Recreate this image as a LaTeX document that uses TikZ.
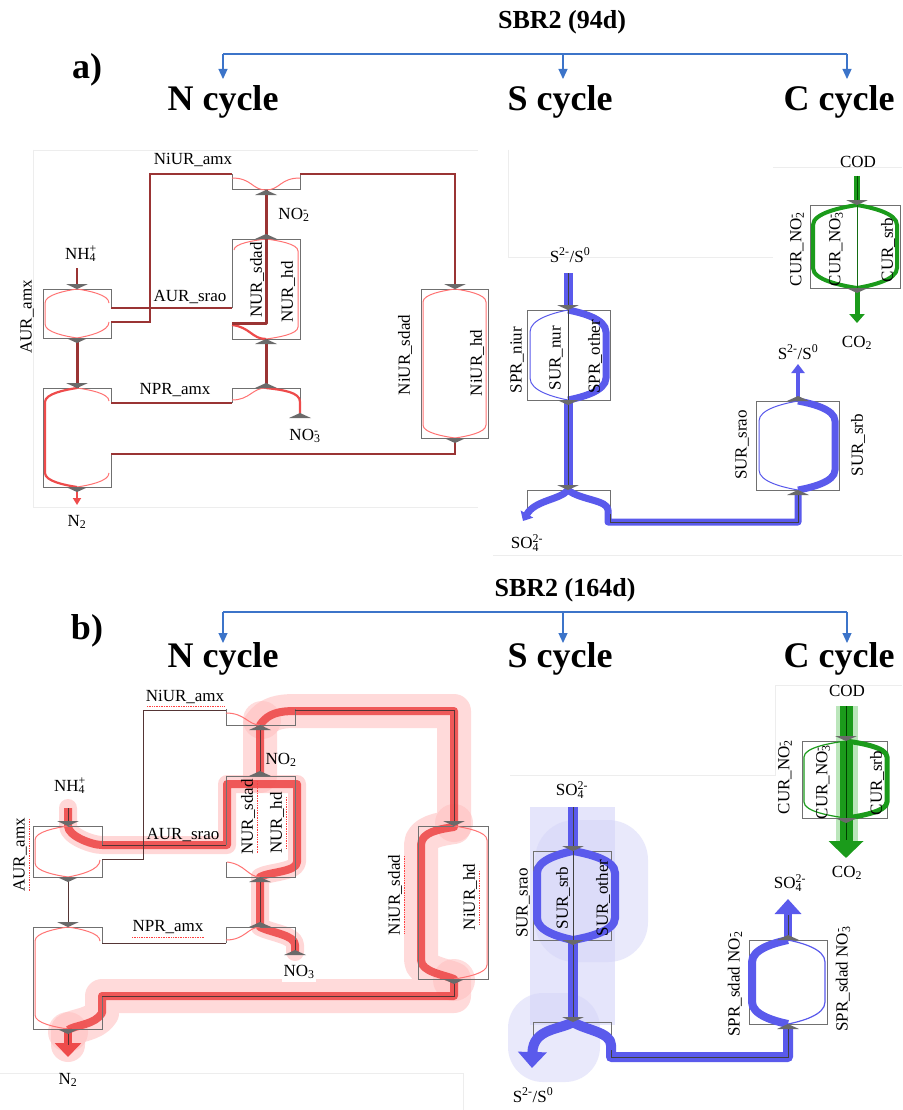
\documentclass[tikz,border=0pt]{standalone}
\usepackage{fontspec}
\setmainfont{Liberation Serif}
\usetikzlibrary{arrows.meta}
\definecolor{bxc}{HTML}{707070}
\definecolor{mkc}{HTML}{6A6A6A}
\definecolor{dred}{HTML}{9A3434}
\definecolor{dkc}{HTML}{553535}
\definecolor{lred}{HTML}{FF7373}
\definecolor{mred}{HTML}{EE4B4B}
\definecolor{glowc}{HTML}{FFBDBD}
\definecolor{fblue}{HTML}{5A5AEC}
\definecolor{gblue}{HTML}{D4D4F9}
\definecolor{fgreen}{HTML}{1B9B1B}
\definecolor{ggreen}{HTML}{8FD68F}
\definecolor{tblue}{HTML}{3C74C9}
\definecolor{framec}{HTML}{EDEDED}
\newcommand\lens[5]{(#1,#2) .. controls ({#1+0.35*(#4-#1)},{#2+0.12*(#5)}) and (#4,{#2+0.4*(#5)}) .. (#4,{#2+#5}) -- (#4,{#3-(#5)}) .. controls (#4,{#3-0.4*(#5)}) and ({#1+0.35*(#4-#1)},{#3-0.12*(#5)}) .. (#1,#3)}
\newcommand\htop[4]{(#1,#2) .. controls ({#1+0.35*(#3-#1)},{#2+0.12*(#4)}) and (#3,{#2+0.4*(#4)}) .. (#3,{#2+#4})}
\newcommand\hbot[4]{(#3,{#2-(#4)}) .. controls (#3,{#2-0.4*(#4)}) and ({#1+0.35*(#3-#1)},{#2-0.12*(#4)}) .. (#1,#2)}
\newcommand\mkd[2]{\fill[mkc] ({#1-11},#2) -- ({#1+11},#2) -- (#1,{#2+5}) -- cycle;}
\newcommand\mku[2]{\fill[mkc] ({#1-11},#2) -- ({#1+11},#2) -- (#1,{#2-5}) -- cycle;}
\newcommand\ssp[2]{\rlap{\textsubscript{#1}}\textsuperscript{#2}}
\tikzset{
 bx/.style={draw=bxc, line width=1pt},
 con/.style={draw=dred, line width=1.1pt},
 conB/.style={draw=dred, line width=2pt},
 dk/.style={draw=dkc, line width=1pt},
 thr/.style={draw=lred, line width=1pt},
 tkr/.style={draw=mred, line width=2.2pt},
 vred/.style={draw=dred, line width=3pt},
 rband/.style={draw=mred, line width=8pt, opacity=0.9, line join=round},
 rglow/.style={draw=glowc, line width=18pt, opacity=0.6, line cap=round, line join=round},
 rglowW/.style={draw=glowc, line width=34pt, opacity=0.55, line cap=round, line join=round},
 bband/.style={draw=fblue, line width=9pt},
 bthin/.style={draw=fblue, line width=1pt},
 bthk/.style={draw=fblue, line width=7pt},
 gthk/.style={draw=fgreen, line width=4pt},
 cl/.style={draw=black!75, line width=0.8pt},
 sq/.style={draw=red!75, densely dotted, line width=0.7pt},
 lab/.style={font=\fontsize{17}{19}\selectfont, inner sep=0pt},
 rlab/.style={lab, rotate=90},
 ttl/.style={font=\bfseries\fontsize{36}{40}\selectfont, inner sep=0pt, anchor=base},
 hd/.style={font=\bfseries\fontsize{26}{30}\selectfont, inner sep=0pt},
 tarr/.style={draw=tblue, line width=1.2pt},
 tah/.style={draw=tblue, line width=1.2pt, -{Triangle[width=9pt,length=10pt]}},
 fr/.style={draw=framec, line width=0.8pt}
}
\begin{document}
\begin{tikzpicture}[x=1pt,y=-1pt]
\fill[white] (0,0) rectangle (902,1110);
\useasboundingbox (0,0) rectangle (902,1110);

% ================= headers =================
\node[hd] (hA) at (562,22) {SBR2 (94d)};
\node[hd, font=\bfseries\fontsize{36}{40}\selectfont] (la) at (87,70) {a)};
\draw[tarr] (223,54) -- (847,54);
\draw[tah] (223,54) -- (223,79);
\draw[tah] (563,54) -- (563,79);
\draw[tah] (847,54) -- (847,79);
\node[ttl] (tNa) at (223,111) {N cycle};
\node[ttl] (tSa) at (560,111) {S cycle};
\node[ttl] (tCa) at (839,111) {C cycle};

\node[hd] (hB) at (565,590) {SBR2 (164d)};
\node[hd, font=\bfseries\fontsize{36}{40}\selectfont] (lb) at (87,631) {b)};
\draw[tarr] (223,612) -- (847,612);
\draw[tah] (223,612) -- (223,643);
\draw[tah] (563,612) -- (563,643);
\draw[tah] (847,612) -- (847,643);
\node[ttl] (tNb) at (223,667) {N cycle};
\node[ttl] (tSb) at (560,667) {S cycle};
\node[ttl] (tCb) at (839,667) {C cycle};

% faint frames
\draw[fr] (33,150) -- (478,150);
\draw[fr] (33,150) -- (33,507) -- (478,507);
\draw[fr] (508,150) -- (508,257) -- (773,257);
\draw[fr] (773,167) -- (902,167);
\draw[fr] (493,555) -- (902,555);
\draw[fr] (0,1073) -- (463,1073) -- (463,1110);
\draw[fr] (510,775) -- (775,775) -- (775,685) -- (902,685);

% ================= panel a : N cycle =================
\draw[bx] (111,308) -- (111,289) -- (43,289) -- (43,338) -- (111,338) -- (111,322);
\draw[bx] (232,174) -- (232,190) -- (300,190) -- (300,174);
\draw[bx] (232,308) -- (232,239) -- (300,239) -- (300,339) -- (232,339) -- (232,323);
\draw[bx] (111,403) -- (111,388) -- (43,388) -- (43,487) -- (111,487) -- (111,454);
\draw[bx] (232,403) -- (232,388) -- (300,388) -- (300,402);
\draw[bx] (421,289) rectangle (488,438);
\draw[conB] (111,322) -- (150,322) -- (150,174) -- (232,174);
\draw[con] (111,308) -- (232,308);
\draw[con] (300,174) -- (455,174) -- (455,285);
\draw[con] (111,403) -- (232,403);
\draw[con] (111,454) -- (455,454) -- (455,438);
\draw[con] (77,268) -- (77,285);
\draw[thr] \lens{77}{289}{338}{45}{14};
\draw[thr] \htop{77}{289}{109}{14};
\draw[thr] \hbot{77}{338}{109}{16};
\draw[thr] (232,178) .. controls (252,178) and (252,190) .. (266,190);
\draw[thr] (300,178) .. controls (280,178) and (280,190) .. (266,190);
\draw[thr] \htop{266}{239}{234}{11};
\draw[thr] \lens{266}{239}{339}{298}{12};
\draw[thr] (232,400) .. controls (250,400) and (252,388) .. (266,388);
\draw[thr] \htop{77}{388}{109}{13};
\draw[thr] \hbot{77}{487}{109}{14};
\draw[thr] \lens{455}{289}{438}{423}{13};
\draw[thr] \lens{455}{289}{438}{486}{13};
\draw[tkr] \lens{77}{388}{487}{45}{14};
\draw[tkr] (266,388) .. controls (283,390) and (300,392) .. (300,402) -- (300,415);
\draw[tkr] (232,325) .. controls (250,327) and (252,339) .. (266,339);
\draw[vred] (77,338) -- (77,388);
\draw[vred] (266,190) -- (266,239);
\draw[vred] (266,339) -- (266,388);
\draw[vred, line join=round] (266,239) -- (266,323) -- (232,323);
\draw[draw=mred, line width=2.5pt, -{Triangle[width=8pt,length=7pt]}] (77,487) -- (77,505);
\mkd{77}{284} \mkd{77}{338} \mkd{77}{383} \mkd{77}{487}
\mku{266}{195} \mku{266}{239} \mku{266}{344} \mku{266}{388} \mku{300}{418}
\mkd{455}{284} \mkd{455}{438}
\node[lab] (a1) at (193,160) {NiUR\_amx};
\node[rlab] (a2) at (27,317) {AUR\_amx};
\node[lab] (a3) at (81,254) {NH\ssp{4}{+}};
\node[lab] (a4) at (190,297) {AUR\_srao};
\node[lab] (a5) at (293,215) {NO\ssp{2}{-}};
\node[rlab] (a6) at (257,280) {NUR\_sdad};
\node[rlab] (a7) at (288,292) {NUR\_hd};
\node[lab] (a8) at (175,390) {NPR\_amx};
\node[lab] (a9) at (304,436) {NO\ssp{3}{-}};
\node[lab] (a10) at (77,522) {N\textsubscript{2}};
\node[rlab] (a11) at (405,355) {NiUR\_sdad};
\node[rlab] (a12) at (477,363) {NiUR\_hd};

% ================= panel a : S cycle =================
\draw[bband] (568,273) -- (568,306);
\draw[cl] (568,273) -- (568,306);
\draw[bx] (527,310) rectangle (610,400);
\draw[bthin] \lens{568}{310}{400}{530}{22};
\draw[bthk] \lens{568}{310}{400}{606}{22};
\draw[cl] (568,310) -- (568,400);
\draw[bband] (568,400) -- (568,486);
\draw[cl] (568,400) -- (568,486);
\draw[bx] (527,512) -- (527,490) -- (610,490) -- (610,517);
\draw[bthk, -{Triangle[width=14pt,length=8pt]}] (568,490) .. controls (560,500) and (535,500) .. (523,521);
\draw[bthk, line join=round] (568,490) .. controls (580,500) and (608,500) .. (608,510) -- (608,522) -- (798,522) -- (798,494);
\draw[cl] (610,514) -- (610,522) -- (798,522) -- (798,495);
\draw[bx] (756,401) rectangle (839,490);
\draw[bthin] \lens{798}{401}{490}{759}{20};
\draw[bthk] \lens{798}{401}{490}{835}{20};
\draw[fblue, line width=4pt, -{Triangle[width=13pt,length=9pt]}] (798,401) -- (798,364);
\mkd{568}{305} \mkd{568}{400} \mkd{568}{485} \mku{798}{495} \mku{798}{401}
\node[lab] (s1) at (570,255) {S\textsuperscript{2-}/S\textsuperscript{0}};
\node[rlab] (s2) at (517,360) {SPR\_niur};
\node[rlab] (s3) at (556,358) {SUR\_nur};
\node[rlab] (s4) at (595,357) {SPR\_other};
\node[lab] (s5) at (527,543) {SO\ssp{4}{2-}};
\node[lab] (s6) at (798,352) {S\textsuperscript{2-}/S\textsuperscript{0}};
\node[rlab] (s7) at (742,445) {SUR\_srao};
\node[rlab] (s8) at (858,445) {SUR\_srb};

% ================= panel a : C cycle =================
\draw[fgreen, line width=6pt] (857,176) -- (857,201);
\draw[draw=green!30!black, line width=0.8pt] (857,176) -- (857,201);
\draw[bx] (810,205) rectangle (900,288);
\draw[gthk] \lens{857}{205}{288}{813}{20};
\draw[gthk] \lens{857}{205}{288}{897}{20};
\draw[draw=fgreen!70!black, line width=1pt] (857,205) -- (857,288);
\draw[fgreen, line width=5pt, -{Triangle[width=15pt,length=9pt]}] (857,288) -- (857,323);
\mkd{857}{200} \mkd{857}{288}
\node[lab] (c1) at (858,162) {COD};
\node[lab] (c2) at (857,343) {CO\textsubscript{2}};
\node[rlab] (c3) at (797,250) {CUR\_NO\ssp{2}{-}};
\node[rlab] (c4) at (836,250) {CUR\_NO\ssp{3}{-}};
\node[rlab] (c5) at (888,250) {CUR\_srb};

% ================= panel b : N cycle =================
\draw[rglowW] (260,776) -- (260,725) .. controls (268,713) and (280,711) .. (295,711) -- (454,711) -- (454,827) .. controls (440,829) and (421,832) .. (421,845) -- (421,960) .. controls (421,972) and (445,975) .. (454,979) -- (454,996) -- (102,996) -- (102,1013) .. controls (95,1025) and (75,1025) .. (68,1030) -- (68,1045);
\fill[glowc, opacity=0.5] (262,720) circle (19);
\fill[glowc, opacity=0.5] (454,823) circle (19);
\fill[glowc, opacity=0.5] (454,980) circle (21);
\fill[glowc, opacity=0.5] (68,1032) circle (20);
\draw[rglow] (68,808) -- (68,826) .. controls (68,836) and (92,845) .. (102,845) -- (227,845) -- (227,784) -- (297,784) -- (297,862) .. controls (297,872) and (268,872) .. (260,877) -- (260,927) .. controls (272,933) and (295,935) .. (295,945) -- (295,952);
\draw[rband] (68,808) -- (68,826) .. controls (68,836) and (92,845) .. (102,845) -- (227,845) -- (227,784) -- (297,784) -- (297,862) .. controls (297,872) and (268,872) .. (260,877) -- (260,927) .. controls (272,933) and (295,935) .. (295,945) -- (295,952);
\draw[rband] (260,776) -- (260,725) .. controls (268,713) and (280,711) .. (295,711) -- (454,711) -- (454,827) .. controls (440,829) and (421,832) .. (421,845) -- (421,960) .. controls (421,972) and (445,975) .. (454,979) -- (454,996) -- (102,996) -- (102,1013) .. controls (95,1025) and (75,1025) .. (68,1030);
\draw[mred, line width=8pt, -{Triangle[width=26pt,length=14pt]}] (68,1028) -- (68,1057);
\draw[bx] (102,845) -- (102,826) -- (33,826) -- (33,877) -- (102,877) -- (102,859);
\draw[bx] (226,709) -- (226,725) -- (295,725) -- (295,709);
\draw[bx] (226,845) -- (226,776) -- (295,776) -- (295,877) -- (226,877) -- (226,862);
\draw[bx] (418,826) rectangle (488,979);
\draw[bx] (102,943) -- (102,927) -- (33,927) -- (33,1029) -- (102,1029) -- (102,996);
\draw[bx] (226,943) -- (226,927) -- (295,927) -- (295,940);
\draw[dk] (102,859) -- (143,859) -- (143,710) -- (226,710);
\draw[dk] (295,710) -- (454,710) -- (454,822);
\draw[dk] (102,845) -- (226,845);
\draw[dk] (102,943) -- (226,943);
\draw[dk] (102,996) -- (454,996) -- (454,979);
\draw[dk] (68,877) -- (68,922);
\draw[dk] (260,725) -- (260,776);
\draw[dk] (260,877) -- (260,927);
\draw[dk] (68,808) -- (68,822);
\draw[dk] (295,940) -- (295,955);
\draw[dk] (68,1029) -- (68,1045);
\draw[thr] \lens{68}{826}{877}{35}{14};
\draw[thr] \hbot{68}{877}{100}{17};
\draw[thr] (226,713) .. controls (245,713) and (248,725) .. (260,725);
\draw[thr] (227,862) .. controls (245,864) and (248,877) .. (260,877);
\draw[thr] (226,940) .. controls (245,940) and (248,927) .. (260,927);
\draw[thr] \lens{68}{927}{1029}{35}{14};
\draw[thr] \htop{68}{927}{100}{14};
\draw[thr] \lens{454}{826}{979}{487}{14};
\mkd{68}{821} \mkd{68}{877} \mkd{68}{922} \mkd{68}{1029}
\mku{260}{730} \mku{260}{776} \mku{260}{882} \mku{260}{927} \mku{295}{955}
\mkd{454}{821} \mkd{454}{979}
\fill[white] (282,961) rectangle (316,982);
\node[lab] (b1) at (185,697) {NiUR\_amx};
\node[rlab] (b2) at (20,855) {AUR\_amx};
\node[lab] (b3) at (70,786) {NH\ssp{4}{+}};
\node[lab] (b4) at (183,835) {AUR\_srao};
\node[lab] (b5) at (281,760) {NO\textsubscript{2}};
\node[rlab] (b6) at (248,817) {NUR\_sdad};
\node[rlab] (b7) at (277,823) {NUR\_hd};
\node[lab] (b8) at (168,927) {NPR\_amx};
\node[lab] (b9) at (299,972) {NO\textsubscript{3}};
\node[lab] (b10) at (68,1080) {N\textsubscript{2}};
\node[rlab] (b11) at (395,895) {NiUR\_sdad};
\node[rlab] (b12) at (470,897) {NiUR\_hd};
\draw[sq] (147,706) -- (224,706);
\draw[sq] (132,937) -- (205,937);
\draw[sq] (29,819) -- (29,892);
\draw[sq] (257,781) -- (257,854);
\draw[sq] (286,797) -- (286,849);
\draw[sq] (404,856) -- (404,934);
\draw[sq] (479,871) -- (479,924);

% ================= panel b : S cycle =================
\fill[gblue, opacity=0.6] (530,807) rectangle (615,1025);
\fill[gblue, opacity=0.5, rounded corners=40pt] (535,820) rectangle (648,962);
\fill[gblue, opacity=0.5, rounded corners=35pt] (508,993) rectangle (600,1082);
\draw[fblue, line width=10pt] (573,807) -- (573,846);
\draw[cl] (573,807) -- (573,846);
\draw[bx] (533,851) rectangle (611,940);
\draw[fblue, line width=8pt] \lens{573}{851}{940}{537}{22};
\draw[fblue, line width=8pt] \lens{573}{851}{940}{615}{22};
\draw[cl] (573,851) -- (573,940);
\draw[fblue, line width=10pt] (573,940) -- (573,1017);
\draw[cl] (573,940) -- (573,1017);
\draw[bx] (533,1050) -- (533,1022) -- (611,1022) -- (611,1050);
\draw[fblue, line width=10pt, -{Triangle[width=28pt,length=16pt]}] (573,1022) .. controls (560,1030) and (533,1028) .. (532,1068);
\draw[fblue, line width=10pt, line join=round] (573,1022) .. controls (585,1030) and (611,1032) .. (611,1045) -- (611,1057) -- (788,1057) -- (788,1028);
\draw[cl] (611,1050) -- (611,1057) -- (788,1057) -- (788,1029);
\draw[bx] (749,940) rectangle (827,1024);
\draw[fblue, line width=8pt] \lens{788}{940}{1024}{752}{22};
\draw[bthin, line width=1.2pt] \lens{788}{940}{1024}{825}{22};
\draw[fblue, line width=8pt, -{Triangle[width=26pt,length=15pt]}] (788,940) -- (788,899);
\draw[cl] (788,940) -- (788,915);
\mkd{573}{846} \mkd{573}{940} \mkd{573}{1017} \mku{788}{1029} \mku{788}{940}
\node[lab] (t1) at (572,790) {SO\ssp{4}{2-}};
\node[rlab] (t2) at (523,903) {SUR\_srao};
\node[rlab] (t3) at (563,898) {SUR\_srb};
\node[rlab] (t4) at (603,898) {SUR\_other};
\node[lab] (t5) at (533,1095) {S\textsuperscript{2-}/S\textsuperscript{0}};
\node[lab] (t6) at (790,883) {SO\ssp{4}{2-}};
\node[rlab] (t7) at (735,985) {SPR\_sdad NO\ssp{2}{-}};
\node[rlab] (t8) at (843,980) {SPR\_sdad NO\ssp{3}{-}};

% ================= panel b : C cycle =================
\fill[ggreen, opacity=0.6] (836,706) rectangle (858,842);
\draw[fgreen, line width=13pt] (846,706) -- (846,736);
\draw[bx] (802,741) rectangle (887,818);
\draw[draw=fgreen, line width=1.2pt] \lens{846}{741}{818}{804}{16};
\draw[draw=fgreen, line width=5pt] \lens{846}{741}{818}{887}{16};
\draw[fgreen, line width=13pt] (846,741) -- (846,818);
\draw[fgreen, line width=13pt, -{Triangle[width=34pt,length=17pt]}] (846,818) -- (846,858);
\draw[draw=green!25!black, line width=0.8pt] (846,706) -- (846,840);
\mkd{846}{736} \mkd{846}{818}
\node[lab] (u1) at (847,691) {COD};
\node[lab] (u2) at (847,873) {CO\textsubscript{2}};
\node[rlab] (u3) at (785,778) {CUR\_NO\ssp{2}{-}};
\node[rlab] (u4) at (823,783) {CUR\_NO\ssp{3}{-}};
\node[rlab] (u5) at (877,783) {CUR\_srb};
\end{tikzpicture}
\end{document}
